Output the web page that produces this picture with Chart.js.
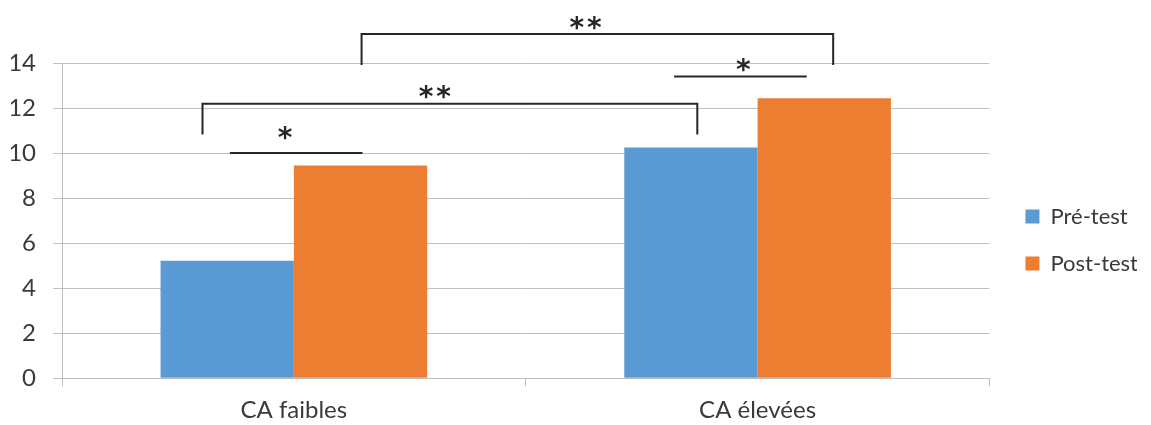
<!DOCTYPE html>
<html>
<head>
<meta charset="utf-8">
<script src="https://cdn.jsdelivr.net/npm/chart.js@4.4.1/dist/chart.umd.min.js"></script>
<style>
    html, body { margin: 0; padding: 0; background: #fff; }
    #wrap { width: 1151px; height: 425px; }
</style>
</head>
<body>
<div id="wrap"><canvas id="chart"></canvas></div>
<script>
// Data
const categories = ['CA faibles', 'CA élevées'];
const preTest = [5.22, 10.25];
const postTest = [9.45, 12.43];
const seriesNames = ['Pré-test', 'Post-test'];
const yTicks = [0, 2, 4, 6, 8, 10, 12, 14];

// Significance marks, in axis units (x = category index, y = score)
const brackets = [
    { x0: -0.197, x1: 0.870, yTop: 12.19, yEnd: 10.83, label: '**', labelX: 0.304, labelY: 12.73 },
    { x0: 0.146, x1: 1.163, yTop: 15.29, yEnd: 13.91, label: '**', labelX: 0.629, labelY: 15.78 }
];
const starLines = [
    { x0: -0.138, x1: 0.148, y: 10.0, label: '*', labelX: -0.019, labelY: 10.89 },
    { x0: 0.820, x1: 1.106, y: 13.4, label: '*', labelX: 0.969, labelY: 13.92 }
];

const FONT = 'Lato, "Open Sans", sans-serif';
const TEXT = '#3a3a3a';
const GRID = '#bfbfbf';
const INK = '#262626';

// draws the brackets and asterisks on top of the bars
const sigPlugin = {
    id: 'sig',
    afterDraw(chart) {
        const { ctx } = chart;
        const xs = chart.scales.x;
        const ys = chart.scales.y;
        const px = v => xs.getPixelForValue(v);
        const py = v => ys.getPixelForValue(v);

        ctx.save();
        ctx.strokeStyle = INK;
        ctx.lineWidth = 2;
        ctx.fillStyle = INK;
        ctx.font = 'bold 28px "DejaVu Sans"';
        ctx.textAlign = 'center';
        ctx.textBaseline = 'alphabetic';

        const label = (text, x, y) => {
            // a little air between the stars of "**"
            ctx.letterSpacing = text.length > 1 ? '3px' : '0px';
            const m = ctx.measureText(text);
            const shift = text.length > 1 ? 1.5 : 0;
            ctx.fillText(text, px(x) + shift, py(y) + (m.actualBoundingBoxAscent - m.actualBoundingBoxDescent) / 2);
        };

        brackets.forEach(b => {
            ctx.beginPath();
            ctx.moveTo(px(b.x0), py(b.yEnd));
            ctx.lineTo(px(b.x0), py(b.yTop));
            ctx.lineTo(px(b.x1), py(b.yTop));
            ctx.lineTo(px(b.x1), py(b.yEnd));
            ctx.stroke();
            label(b.label, b.labelX, b.labelY);
        });

        starLines.forEach(s => {
            ctx.beginPath();
            ctx.moveTo(px(s.x0), py(s.y));
            ctx.lineTo(px(s.x1), py(s.y));
            ctx.stroke();
            label(s.label, s.labelX, s.labelY);
        });
        ctx.restore();
    }
};

// nudge the legend a bit right and up, like the original
const legendShift = {
    id: 'legendShift',
    afterLayout(chart) {
        chart.legend.left += 11;
        chart.legend.top -= 4;
        chart.legend.bottom -= 4;
    }
};

const ctx = document.getElementById('chart').getContext('2d');
const chart = new Chart(ctx, {
    type: 'bar',
    data: {
        labels: categories,
        datasets: [{
            label: seriesNames[0],
            data: preTest,
            backgroundColor: '#5b9bd5'
        }, {
            label: seriesNames[1],
            data: postTest,
            backgroundColor: '#ed7d31'
        }]
    },
    options: {
        responsive: true,
        maintainAspectRatio: false,
        animation: false,
        datasets: {
            bar: { categoryPercentage: 0.575, barPercentage: 1.0 }
        },
        layout: {
            padding: { top: 63, right: 14, bottom: 0, left: 11 }
        },
        plugins: {
            legend: {
                position: 'right',
                labels: {
                    boxWidth: 14,
                    boxHeight: 14,
                    padding: 25,
                    color: TEXT,
                    font: { family: FONT, size: 22 }
                }
            },
            tooltip: { enabled: false }
        },
        scales: {
            x: {
                afterFit: axis => { axis.height = 46.7; },
                grid: {
                    offset: true,
                    drawOnChartArea: false,
                    drawTicks: true,
                    tickLength: 8,
                    color: GRID
                },
                border: { color: GRID },
                ticks: {
                    color: TEXT,
                    padding: 10,
                    font: { family: FONT, size: 24 }
                }
            },
            y: {
                min: 0,
                max: 14,
                afterFit: axis => { axis.width = 51; },
                afterBuildTicks: axis => {
                    axis.ticks = yTicks.map(v => ({ value: v }));
                },
                grid: {
                    color: GRID,
                    tickLength: 9
                },
                border: { color: GRID },
                ticks: {
                    color: TEXT,
                    padding: 17,
                    font: { family: FONT, size: 24 }
                }
            }
        }
    },
    plugins: [sigPlugin, legendShift]
});
</script>
</body>
</html>
